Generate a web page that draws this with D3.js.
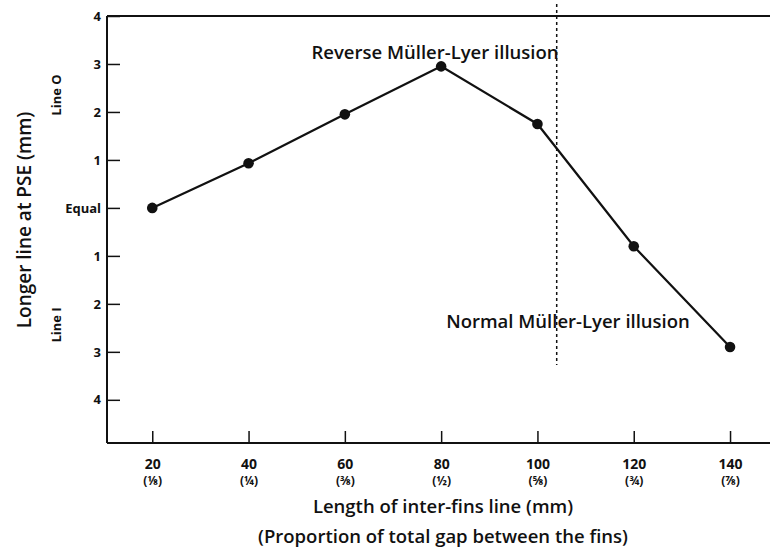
<!DOCTYPE html>
<html><head><meta charset="utf-8">
<script src="https://cdn.jsdelivr.net/npm/d3@7"></script>
<style>
body{margin:0;background:#fff;}
text{font-family:"Open Sans","Noto Sans",sans-serif;fill:#111;}
</style></head>
<body><svg id="c" width="772" height="558"></svg>
<script>
const xValues = [20, 40, 60, 80, 100, 120, 140];
const pseValues = [0, 0.93, 1.95, 2.95, 1.75, -0.8, -2.9];
const xTickLabels = ["20", "40", "60", "80", "100", "120", "140"];
const xFractionLabels = ["(⅛)", "(¼)", "(⅜)", "(½)", "(⅝)", "(¾)", "(⅞)"];
const yTicks = [4, 3, 2, 1, 0, -1, -2, -3, -4];
const yTickLabels = ["4", "3", "2", "1", "Equal", "1", "2", "3", "4"];
const boundaryX = 104;

const svg = d3.select("#c");
const mL = 107, mT = 16, mR = 770, mB = 443;
const x = d3.scaleLinear().domain([10.6, 148.3]).range([mL, mR]);
const y = d3.scaleLinear().domain([4, -4.9]).range([mT, mB]);

// y axis
const yAxis = d3.axisLeft(y).tickValues(yTicks).tickSize(-13).tickPadding(20)
  .tickFormat((d, i) => yTickLabels[i]);
const gy = svg.append("g").attr("transform", `translate(${mL},0)`).call(yAxis);
gy.select(".domain").remove();
gy.selectAll("line").attr("stroke", "#111").attr("stroke-width", 1.5);
gy.selectAll("text").attr("font-size", 13).attr("font-weight", 700).attr("x", -6);

// x axis
const xAxis = d3.axisBottom(x).tickValues(xValues).tickSize(-12).tickPadding(18)
  .tickFormat((d, i) => xTickLabels[i]);
const gx = svg.append("g").attr("transform", `translate(0,${mB})`).call(xAxis);
gx.select(".domain").remove();
gx.selectAll("line").attr("stroke", "#111").attr("stroke-width", 1.5);
gx.selectAll("text").attr("font-size", 14).attr("font-weight", 700).attr("y", 16);
gx.selectAll(".tick").append("text").attr("y", 33).attr("dy", "0.71em")
  .attr("text-anchor", "middle").attr("font-size", 12).attr("font-weight", 700)
  .text((d, i) => xFractionLabels[i]);

// frame lines
svg.append("line").attr("x1", mL).attr("x2", mL).attr("y1", mT).attr("y2", mB)
  .attr("stroke", "#111").attr("stroke-width", 2);
svg.append("line").attr("x1", mL).attr("x2", mR).attr("y1", mB).attr("y2", mB)
  .attr("stroke", "#111").attr("stroke-width", 2);
svg.append("line").attr("x1", mL).attr("x2", mR).attr("y1", mT).attr("y2", mT)
  .attr("stroke", "#111").attr("stroke-width", 2);

// boundary dashed line
svg.append("line").attr("x1", x(boundaryX)).attr("x2", x(boundaryX))
  .attr("y1", 4).attr("y2", 365).attr("stroke", "#111").attr("stroke-width", 1.5)
  .attr("stroke-dasharray", "3,3");

// data line
const pts = xValues.map((v, i) => [v, pseValues[i]]);
svg.append("path").datum(pts)
  .attr("d", d3.line().x(d => x(d[0])).y(d => y(d[1])))
  .attr("fill", "none").attr("stroke", "#111").attr("stroke-width", 2.2);
svg.selectAll("circle.pt").data(pts).join("circle")
  .attr("cx", d => x(d[0])).attr("cy", d => y(d[1])).attr("r", 5.3).attr("fill", "#111");

// annotations
svg.append("text").attr("x", 435).attr("y", 59).attr("text-anchor", "middle")
  .attr("font-size", 18.5).attr("font-weight", 600).text("Reverse Müller-Lyer illusion");
svg.append("text").attr("x", 568).attr("y", 328).attr("text-anchor", "middle")
  .attr("font-size", 18.5).attr("font-weight", 600).text("Normal Müller-Lyer illusion");

// axis titles
svg.append("text").attr("x", 443).attr("y", 513).attr("text-anchor", "middle")
  .attr("font-size", 18.5).attr("font-weight", 600).text("Length of inter-fins line (mm)");
svg.append("text").attr("x", 443).attr("y", 543).attr("text-anchor", "middle")
  .attr("font-size", 18.5).attr("font-weight", 600).text("(Proportion of total gap between the fins)");
svg.append("text").attr("transform", "translate(31,220) rotate(-90)").attr("text-anchor", "middle")
  .attr("font-size", 19).attr("font-weight", 600).text("Longer line at PSE (mm)");
svg.append("text").attr("transform", "translate(61,95) rotate(-90)").attr("text-anchor", "middle")
  .attr("font-size", 13).attr("font-weight", 700).text("Line O");
svg.append("text").attr("transform", "translate(61,325) rotate(-90)").attr("text-anchor", "middle")
  .attr("font-size", 13).attr("font-weight", 700).text("Line I");
</script></body></html>
